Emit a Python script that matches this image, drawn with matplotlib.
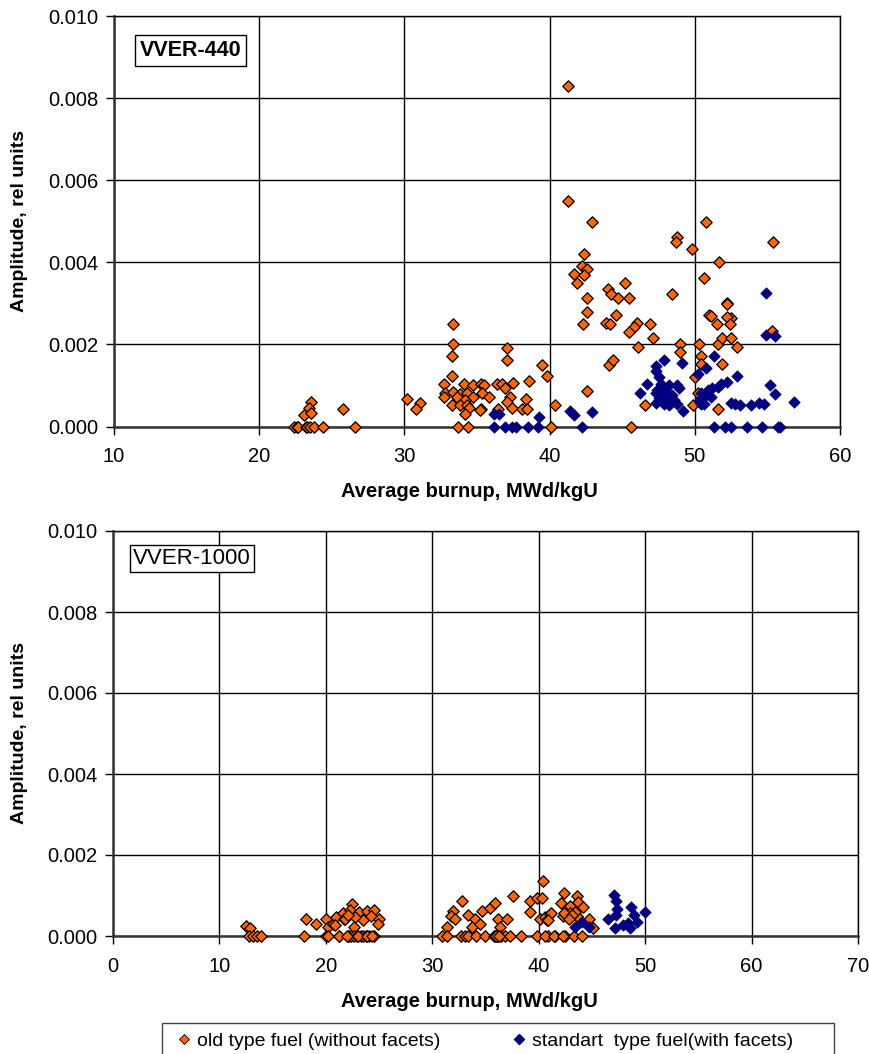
import matplotlib
matplotlib.use("Agg")
import matplotlib.pyplot as plt
from matplotlib.lines import Line2D
from matplotlib.patches import Rectangle

plt.rcParams['font.family'] = ['Liberation Sans', 'DejaVu Sans']

# ---------------- VVER-440 data ----------------
old440_x = [22.37, 22.6, 22.7, 23.2, 23.3, 23.5, 23.8, 24.4, 26.6,
            23.6, 23.45, 23.1, 23.6, 25.8, 30.2, 31.05, 30.8,
            41.3, 41.3, 42.9, 42.4, 42.25, 42.6, 41.7, 42.4, 41.9, 42.6, 42.6, 42.3,
            44.0, 44.25, 44.7, 44.55, 43.9, 44.15, 44.1, 44.4, 42.55,
            33.35, 33.35, 33.3, 37.1, 37.05, 39.5, 39.8, 38.6, 33.3, 32.75, 34.1,
            34.7, 35.25, 35.5, 36.35, 36.7, 36.9, 37.5, 32.8, 33.35, 33.8, 34.3,
            35.35, 35.8, 34.7, 32.7, 33.6, 34.2, 37.3, 37.05, 38.35, 33.3, 33.8,
            34.3, 34.45, 35.25, 35.2, 34.2, 37.4, 38.1, 38.45, 36.45, 40.4,
            33.7, 34.4, 40.1,
            50.8, 48.8, 48.7, 49.8, 55.4, 51.7, 50.6, 45.2, 45.5, 48.4, 52.2, 52.2,
            51.0, 51.15, 52.5, 52.2, 52.4, 51.5, 46.0, 45.8, 45.5, 46.9, 47.1, 46.1,
            49.0, 49.0, 50.3, 50.4, 50.4, 51.6, 51.9, 52.5, 52.9, 51.9, 55.35,
            46.6, 50.0, 50.2, 49.9, 51.6, 45.6]
old440_y = [0, 0, 0, 0, 0, 0, 0, 0, 0,
            0.00059, 0.00046, 0.00028, 0.00032, 0.00043, 0.00066, 0.00058, 0.00042,
            0.0083, 0.0055, 0.00499, 0.0042, 0.00392, 0.00383, 0.00371, 0.00369, 0.0035, 0.00312, 0.0028, 0.0025,
            0.00334, 0.00322, 0.00312, 0.00272, 0.00251, 0.0025, 0.0015, 0.00162, 0.00087,
            0.0025, 0.002, 0.00172, 0.00192, 0.00162, 0.00151, 0.00123, 0.00112, 0.00123, 0.00103, 0.00103,
            0.00101, 0.00103, 0.00101, 0.00103, 0.00103, 0.00095, 0.00105, 0.00082, 0.00085, 0.00079, 0.00082,
            0.00082, 0.00073, 0.00073, 0.00073, 0.00071, 0.00065, 0.00073, 0.0006, 0.00066, 0.00052, 0.00052,
            0.00052, 0.00044, 0.00042, 0.00039, 0.0003, 0.00044, 0.00042, 0.00042, 0.00042, 0.00052,
            0, 0, 0,
            0.00499, 0.00462, 0.00449, 0.00432, 0.00449, 0.004, 0.00361, 0.0035, 0.00312, 0.00322, 0.00302, 0.00298,
            0.00272, 0.00269, 0.00264, 0.00266, 0.00249, 0.0025, 0.00251, 0.00243, 0.00231, 0.0025, 0.00215, 0.00193,
            0.00201, 0.00181, 0.00201, 0.00172, 0.00152, 0.00201, 0.00215, 0.00215, 0.00193, 0.00152, 0.00233,
            0.00052, 0.00121, 0.00081, 0.00052, 0.00043, 0]

std440_x = [36.15, 36.5, 39.3, 41.4, 41.65, 42.9,
            36.15, 36.95, 37.4, 37.7, 38.5, 39.2, 42.2,
            54.9, 54.9, 55.5, 51.3, 47.9, 49.15, 47.35, 50.8, 47.35, 50.2, 52.9, 47.5,
            46.7, 47.7, 48.2, 48.8, 52.2, 51.8, 51.6, 51.2, 55.2, 47.4, 47.95, 48.9,
            50.9, 46.2, 47.35, 47.9, 48.4, 50.4, 50.8, 55.5, 47.5, 48.1, 48.6, 50.5,
            51.1, 47.35, 47.9, 48.2, 48.8, 50.4, 50.3, 52.5, 52.8, 53.1, 53.9, 54.4,
            54.8, 56.85, 49.2, 50.6,
            51.3, 52.1, 52.5, 53.6, 54.6, 55.75, 55.9]
std440_y = [0.0003, 0.0003, 0.00022, 0.00038, 0.00028, 0.00035,
            0, 0, 0, 0, 0, 0, 0,
            0.00326, 0.00223, 0.00221, 0.00172, 0.00162, 0.00154, 0.00147, 0.00143, 0.00134, 0.00128, 0.00123, 0.00121,
            0.00103, 0.00103, 0.00101, 0.00101, 0.00109, 0.00103, 0.00097, 0.00093, 0.00101, 0.00089, 0.00089, 0.00093,
            0.00089, 0.00081, 0.00082, 0.00081, 0.00077, 0.00081, 0.00077, 0.00079, 0.00069, 0.00066, 0.00065, 0.00069,
            0.00073, 0.00058, 0.00055, 0.00052, 0.00055, 0.00055, 0.00063, 0.00058, 0.00055, 0.00052, 0.00052, 0.00058,
            0.00055, 0.0006, 0.00038, 0.00055,
            0, 0, 0, 0, 0, 0, 0]

# ---------------- VVER-1000 data ----------------
old1000_x = [12.5, 12.9, 12.8, 13.2, 13.5, 13.9,
             18.1, 19.1, 20.0, 20.2, 20.7, 21.0, 21.6, 21.7, 17.9, 20.0, 20.2, 21.2, 22.2,
             22.5, 22.3, 23.15, 23.9, 24.5, 24.2, 23.5, 22.7, 21.8, 22.6, 25.0, 24.9, 20.9, 22.1,
             21.2, 22.1, 22.35, 22.65, 22.9, 23.3, 23.5, 23.8, 24.1, 24.5, 22.0, 23.0, 23.9, 24.3,
             32.8, 31.9, 31.8, 32.1, 31.4, 33.4, 34.0, 33.7, 34.65, 34.5, 35.4, 35.9, 36.2, 37.0,
             36.4, 37.6, 39.2, 39.8, 40.3, 40.4, 39.2, 40.1, 40.6, 41.1, 40.8, 42.4, 42.1, 42.9,
             43.6, 42.9, 43.6, 42.3,
             30.9, 31.4, 32.7, 33.1, 33.4, 34.1, 35.0, 35.8, 36.1, 36.2, 36.5, 36.8, 37.3, 38.3,
             39.8, 40.9, 41.5, 42.5, 43.3, 35.9, 36.0, 36.3,
             43.7, 44.2, 43.4, 42.4, 43.1, 41.2, 40.9, 42.8, 44.7, 45.1,
             40.6, 41.4, 42.3, 44.05]
old1000_y = [0.00025, 0.0002, 0, 0, 0, 0,
             0.00043, 0.00029, 0.00041, 0.00023, 0.00029, 0.00046, 0.00058, 0.00041, 0, 0, 0, 0, 0,
             0.00078, 0.00065, 0.00059, 0.00061, 0.00064, 0.00049, 0.00039, 0.00046, 0.00041, 0.00023, 0.00043, 0.00029, 0.00027, 0.00051,
             0, 0, 0, 0, 0, 0, 0, 0, 0, 0, 0, 0, 0, 0,
             0.00086, 0.00061, 0.00049, 0.00041, 0.00021, 0.00051, 0.00041, 0.00023, 0.00061, 0.00029, 0.0007, 0.00081, 0.00041, 0.00043,
             0.00021, 0.001, 0.00087, 0.00094, 0.00094, 0.00137, 0.00059, 0.00043, 0.00047, 0.00055, 0.00039, 0.00106, 0.00081, 0.00075,
             0.001, 0.00057, 0.00049, 0.00049,
             0, 0, 0, 0, 0, 0, 0, 0, 0, 0, 0, 0, 0, 0,
             0, 0, 0, 0, 0, 0, 0, 0,
             0.00084, 0.00072, 0.0006, 0.00056, 0.00052, 0.00057, 0.00039, 0.00041, 0.00041, 0.00019,
             0, 0, 0, 0]

std1000_x = [47.1, 47.3, 47.4, 47.3, 46.55, 47.2, 48.65, 49.0, 50.0, 49.2, 48.4, 47.95, 48.6,
             44.05, 43.4, 44.7]
std1000_y = [0.00102, 0.00086, 0.00066, 0.00052, 0.00041, 0.0002, 0.00072, 0.00052, 0.0006, 0.00035,
             0.00031, 0.00027, 0.0002, 0.00035, 0.00023, 0.00023]

yticks = [0.000, 0.002, 0.004, 0.006, 0.008, 0.010]
xticks_top = [10, 20, 30, 40, 50, 60]
xticks_bot = [0, 10, 20, 30, 40, 50, 60, 70]
xlabel = "Average burnup, MWd/kgU"
ylabel = "Amplitude, rel units"
labels = ["old type fuel (without facets)", "standart  type fuel(with facets)"]

ORANGE = "#FF6600"
NAVY = "#000080"

W, H = 870, 1054
fig = plt.figure(figsize=(W / 100, H / 100), dpi=100)

def axes_px(l, r, t, b):
    return fig.add_axes([l / W, 1 - b / H, (r - l) / W, (b - t) / H])

ax1 = axes_px(114, 840, 16, 426.5)
ax2 = axes_px(113, 858, 531, 936)

def style(ax, xt, xlim, xl_coords, yl_coords):
    ax.set_xlim(*xlim)
    ax.set_ylim(0, 0.010)
    ax.set_xticks(xt)
    ax.set_yticks(yticks)
    ax.set_yticklabels([f"{v:.3f}" for v in yticks])
    ax.grid(True, color="black", linewidth=1.0)
    ax.set_axisbelow(True)
    for s in ["top", "right"]:
        ax.spines[s].set_color("black")
        ax.spines[s].set_linewidth(1.0)
    for s in ["left", "bottom"]:
        ax.spines[s].set_color("#333333")
        ax.spines[s].set_linewidth(1.8)
    ax.tick_params(axis="both", direction="out", length=6, width=1.0,
                   labelsize=14.5, colors="black")
    ax.tick_params(axis="x", pad=9)
    ax.tick_params(axis="y", pad=5)
    ax.set_xlabel(xlabel, fontsize=14.5, fontweight="bold")
    ax.set_ylabel(ylabel, fontsize=14, fontweight="bold")
    ax.xaxis.set_label_coords(*xl_coords)
    ax.yaxis.set_label_coords(*yl_coords)

style(ax1, xticks_top, (10, 60), (0.49, -0.135), (-0.118, 0.5))
style(ax2, xticks_bot, (0, 70), (0.479, -0.138), (-0.114, 0.5))

for ax, ox, oy, sx, sy in [(ax1, old440_x, old440_y, std440_x, std440_y),
                           (ax2, old1000_x, old1000_y, std1000_x, std1000_y)]:
    ax.scatter(ox, oy, marker="D", s=34, c=ORANGE, edgecolors="black",
               linewidths=0.9, zorder=3, clip_on=False)
    ax.scatter(sx, sy, marker="D", s=34, c=NAVY, edgecolors=NAVY,
               linewidths=0.5, zorder=4, clip_on=False)

ax1.text(0.035, 0.916, "VVER-440", transform=ax1.transAxes, fontsize=15.5,
         fontweight="bold", va="center", ha="left",
         bbox=dict(boxstyle="square,pad=0.22", fc="white", ec="black", lw=1.0))
ax2.text(0.027, 0.932, "VVER-1000", transform=ax2.transAxes, fontsize=16,
         va="center", ha="left",
         bbox=dict(boxstyle="square,pad=0.12", fc="white", ec="black", lw=1.0))

# legend frame (extends past the bottom of the figure, as in the reference)
fig.patches.append(Rectangle((162 / W, 1 - 1070 / H), 672 / W, 47 / H,
                             transform=fig.transFigure, fc="white",
                             ec="#444444", lw=1.0))

handles = [Line2D([], [], marker="D", linestyle="none", markersize=5,
                  markerfacecolor=ORANGE, markeredgecolor="black", markeredgewidth=0.6),
           Line2D([], [], marker="D", linestyle="none", markersize=5,
                  markerfacecolor=NAVY, markeredgecolor=NAVY)]
leg = fig.legend(handles, labels, loc="center left",
                 bbox_to_anchor=(176 / W, 1 - 1041 / H),
                 ncol=2, fontsize=14, frameon=False,
                 handlelength=0.8, handletextpad=0.3,
                 borderpad=0, borderaxespad=0, columnspacing=3.6)

fig.savefig("out.png", dpi=100)
